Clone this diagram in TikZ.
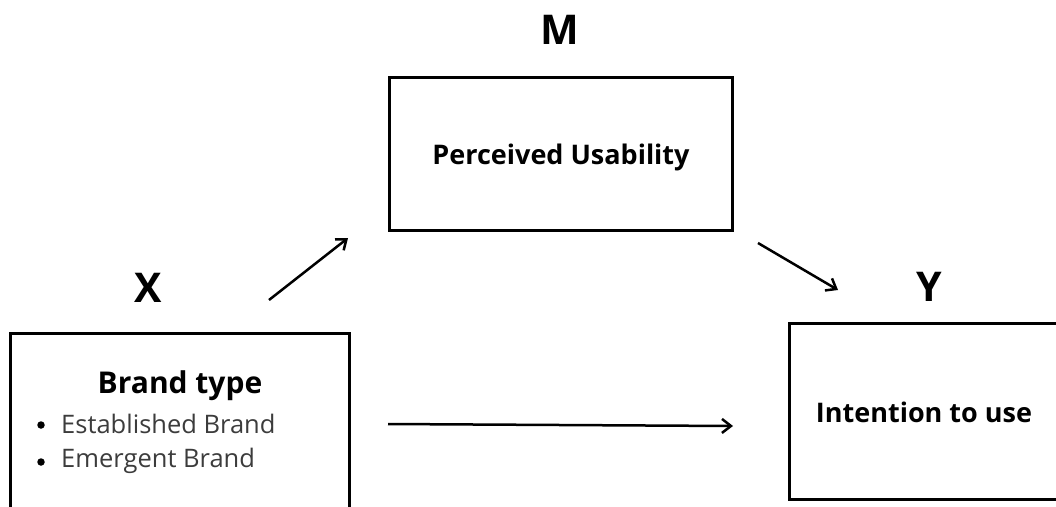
\documentclass[tikz,border=0pt]{standalone}
\usepackage{fontspec}
\setmainfont{Open Sans}
\usetikzlibrary{arrows.meta}
\definecolor{bodygray}{HTML}{3C3C3C}
\tikzset{
  box/.style={draw=black, line width=3pt, inner sep=0pt},
  letter/.style={font=\fontsize{41}{48}\selectfont\bfseries},
  boxtitle/.style={font=\fontsize{27}{32}\selectfont\bfseries},
  bigtitle/.style={font=\fontsize{30}{36}\selectfont\bfseries},
  itemtext/.style={font=\fontsize{25.5}{30}\selectfont, text=bodygray, anchor=west, inner sep=0pt},
  dot/.style={circle, fill=black, inner sep=0pt, minimum size=7.5pt},
  link/.style={line width=2.5pt, -{Straight Barb[length=9pt,width=14pt,line width=2.5pt]}}
}
\begin{document}
\begin{tikzpicture}[x=1pt,y=-1pt]
\useasboundingbox (0,0) rectangle (1056,506);
\clip (0,0) rectangle (1056,506);
% boxes
\node[box, minimum width=339pt, minimum height=230pt] (xb) at (179.5,448) {};
\node[box, minimum width=343pt, minimum height=153pt] (mb) at (560.5,153.5) {};
\node[box, minimum width=320pt, minimum height=176pt] (yb) at (949,411) {};
% letters
\node[letter] (xl) at (148,288) {X};
\node[letter] (ml) at (560,30) {M};
\node[letter] (yl) at (929,287) {Y};
% texts
\node[boxtitle] (mt) at (561,157) {Perceived Usability};
\node[boxtitle] (yt) at (924,412) {Intention to use};
\node[bigtitle] (xt) at (180,386) {Brand type};
\node[dot] (d1) at (41,425) {};
\node[dot] (d2) at (41,462) {};
\node[itemtext] (b1) at (61,424) {Established Brand};
\node[itemtext] (b2) at (61,461) {Emergent Brand};
% arrow end points
\coordinate (a1s) at (269,300);
\coordinate (a1e) at (348,238);
\coordinate (a2s) at (758,243);
\coordinate (a2e) at (838,290);
\coordinate (a3s) at (388,424);
\coordinate (a3e) at (733,426);
\draw[link] (a1s) -- (a1e);
\draw[link] (a2s) -- (a2e);
\draw[link] (a3s) -- (a3e);
\end{tikzpicture}
\end{document}
